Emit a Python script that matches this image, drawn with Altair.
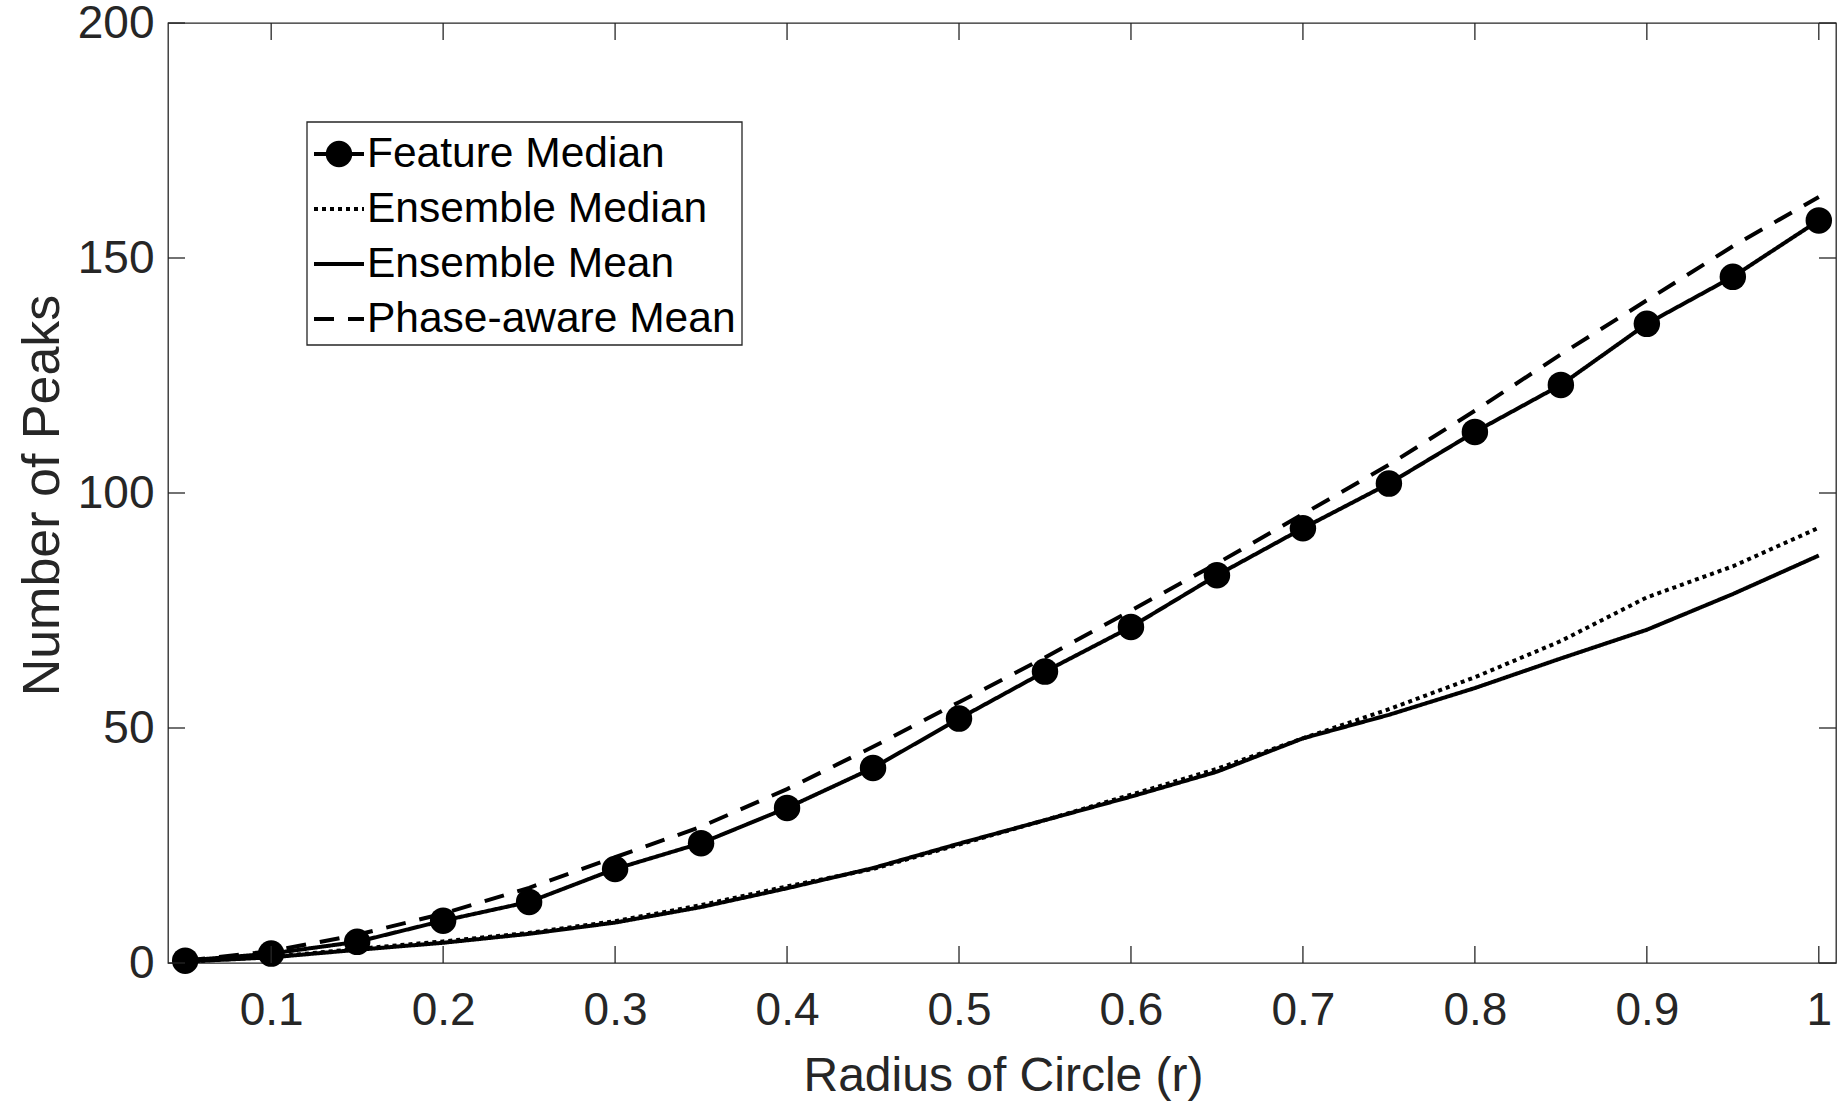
import altair as alt
import pandas as pd

# ---------------- data ----------------
radius = [0.05, 0.10, 0.15, 0.20, 0.25, 0.30, 0.35, 0.40, 0.45, 0.50,
          0.55, 0.60, 0.65, 0.70, 0.75, 0.80, 0.85, 0.90, 0.95, 1.00]
feature_median = [0.5, 2.0, 4.5, 9.0, 13.0, 20.0, 25.5, 33.0, 41.5, 52.0,
                  62.0, 71.5, 82.5, 92.5, 102.0, 113.0, 123.0, 136.0, 146.0, 158.0]
ensemble_median = [0.3, 1.3, 3.0, 4.6, 6.4, 8.9, 12.3, 16.3, 20.0, 25.2,
                   30.4, 35.8, 41.3, 47.8, 54.0, 60.8, 68.5, 77.8, 84.4, 92.6]
ensemble_mean = [0.3, 1.2, 2.8, 4.3, 6.2, 8.6, 11.9, 15.9, 20.2, 25.4,
                 30.4, 35.4, 40.7, 47.8, 52.8, 58.5, 64.8, 70.9, 78.5, 86.7]
phase_aware_mean = [0.5, 2.5, 6.0, 10.5, 16.0, 22.5, 29.0, 37.0, 46.0, 55.5,
                    65.0, 75.0, 85.0, 95.5, 106.0, 117.5, 129.5, 141.0, 152.5, 163.0]
series_names = ["Feature Median", "Ensemble Median", "Ensemble Mean", "Phase-aware Mean"]
x_ticks = [0.1, 0.2, 0.3, 0.4, 0.5, 0.6, 0.7, 0.8, 0.9, 1.0]
y_ticks = [0, 50, 100, 150, 200]
x_title = "Radius of Circle (r)"
y_title = "Number of Peaks"

# ---------------- styling ----------------
W, H = 1668, 940
FONT = "Liberation Sans"
AX = "#262626"
LW = 4
TICK_LEN = 17
dashes = {
    "Feature Median": [1, 0],
    "Ensemble Median": [4, 4],
    "Ensemble Mean": [1, 0],
    "Phase-aware Mean": [20, 14],
}
values_by_name = dict(zip(series_names,
                          [feature_median, ensemble_median, ensemble_mean, phase_aware_mean]))

xs = alt.Scale(domain=[0.04, 1.01], nice=False, zero=False)
ys = alt.Scale(domain=[0, 200], nice=False, zero=False)

x_axis = alt.Axis(values=x_ticks, format="~g", title=x_title, grid=False, ticks=False,
                  tickSize=0, domain=False, labelPadding=25, titleX=W / 2 + 1, titleY=127,
                  titleBaseline="alphabetic", titleAnchor="middle", titleFontSize=48)
y_axis = alt.Axis(values=y_ticks, title=y_title, grid=False, ticks=False, tickSize=0,
                  domain=False, labelPadding=14, titleX=-110, titleY=H / 2 + 2,
                  titleBaseline="alphabetic", titleAngle=270, titleFontSize=52)


def X():
    return alt.X("r:Q", scale=xs, axis=x_axis)


def Y():
    return alt.Y("peaks:Q", scale=ys, axis=y_axis)


layers = []

# data lines
for name in series_names:
    d = pd.DataFrame({"r": radius, "peaks": values_by_name[name]})
    layers.append(
        alt.Chart(d).mark_line(color="black", strokeWidth=LW, strokeDash=dashes[name])
        .encode(x=X(), y=Y())
    )

# markers for Feature Median
fm = pd.DataFrame({"r": radius, "peaks": feature_median})
layers.append(
    alt.Chart(fm).mark_circle(color="black", size=700, opacity=1).encode(x=X(), y=Y())
)

# inward ticks on all four sides (MATLAB box style)
xt = pd.DataFrame({"r": x_ticks})
yt = pd.DataFrame({"peaks": y_ticks})
tick_mark = dict(color=AX, strokeWidth=1.3)
layers.append(alt.Chart(xt).mark_rule(**tick_mark).encode(
    x=X(), y=alt.value(H), y2=alt.value(H - TICK_LEN)))
layers.append(alt.Chart(xt).mark_rule(**tick_mark).encode(
    x=X(), y=alt.value(0), y2=alt.value(TICK_LEN)))
layers.append(alt.Chart(yt).mark_rule(**tick_mark).encode(
    y=Y(), x=alt.value(0), x2=alt.value(TICK_LEN)))
layers.append(alt.Chart(yt).mark_rule(**tick_mark).encode(
    y=Y(), x=alt.value(W - TICK_LEN), x2=alt.value(W)))

# legend box
box = pd.DataFrame({"k": [0]})
layers.append(alt.Chart(box).mark_rect(fill="white", stroke=AX, strokeWidth=1.3).encode(
    x=alt.value(139), x2=alt.value(574), y=alt.value(99), y2=alt.value(322)))

row_y0, row_dy = 131, 55
for i, name in enumerate(series_names):
    yy = row_y0 + i * row_dy
    ld = pd.DataFrame({"name": [name]})
    layers.append(alt.Chart(ld).mark_rule(color="black", strokeWidth=LW, strokeDash=dashes[name])
                  .encode(x=alt.value(146), x2=alt.value(196), y=alt.value(yy)))
    if name == "Feature Median":
        layers.append(alt.Chart(ld).mark_circle(color="black", size=700, opacity=1)
                      .encode(x=alt.value(171), y=alt.value(yy)))
    layers.append(alt.Chart(ld).mark_text(align="left", baseline="middle", font=FONT,
                                          fontSize=42.5, color="black")
                  .encode(x=alt.value(199), y=alt.value(yy), text="name:N"))

chart = (
    alt.layer(*layers)
    .properties(width=W, height=H, autosize=alt.AutoSizeParams(type="none"),
                padding={"left": 168, "top": 23, "right": 1, "bottom": 138},
                background="white")
    .configure_view(stroke=AX, strokeWidth=1.3)
    .configure_axis(labelFont=FONT, labelFontSize=46, labelColor=AX,
                    titleFont=FONT, titleColor=AX, titleFontWeight="normal")
)

chart.save("out.html", embed_options={"renderer": "svg", "actions": False})
